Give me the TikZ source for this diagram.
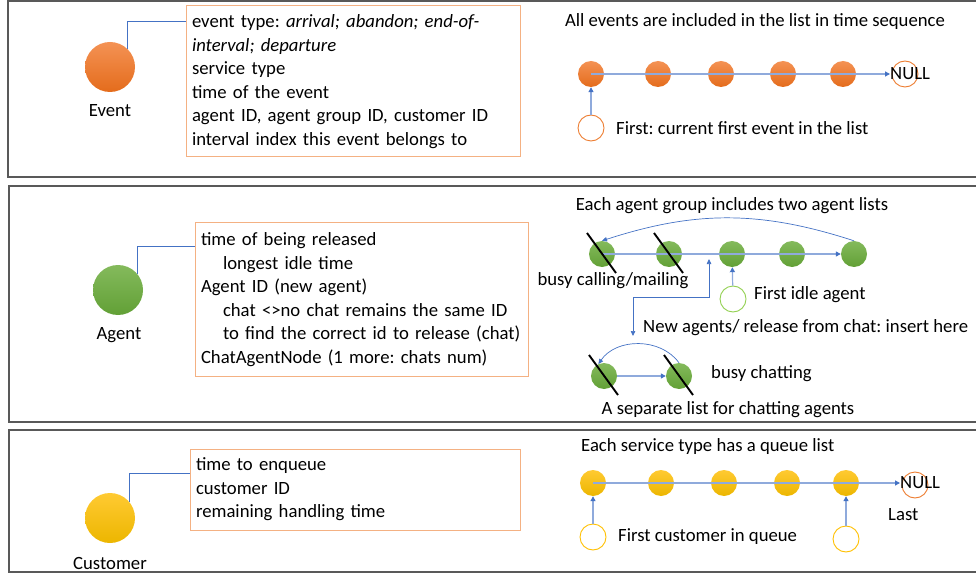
\documentclass[tikz,border=0pt]{standalone}
\usepackage{fontspec}
\setmainfont{Carlito}
\usetikzlibrary{arrows.meta, positioning}
\definecolor{framegray}{RGB}{89, 89, 89}
\definecolor{boxorange}{RGB}{244, 177, 131}
\definecolor{linkblue}{RGB}{68, 114, 196}
\definecolor{listblue}{RGB}{143, 170, 220}
\definecolor{evtop}{RGB}{244, 146, 84}
\definecolor{evbot}{RGB}{228, 108, 28}
\definecolor{evring}{RGB}{237, 125, 49}
\definecolor{agtop}{RGB}{132, 186, 92}
\definecolor{agbot}{RGB}{98, 160, 54}
\definecolor{agring}{RGB}{146, 208, 80}
\definecolor{cutop}{RGB}{255, 202, 50}
\definecolor{cubot}{RGB}{236, 182, 0}
\definecolor{curing}{RGB}{255, 192, 0}
\frenchspacing

\begin{document}
\begin{tikzpicture}[
  x=1pt, y=-1pt,
  font=\fontsize{18.7}{23.5}\selectfont,
  panel/.style={draw=framegray, line width=1.4pt},
  infobox/.style={
    rectangle, draw=boxorange, line width=1pt, align=left,
    inner xsep=6pt, inner ysep=0pt, text width=#1
  },
  ball/.style 2 args={circle, minimum size=50pt, inner sep=0pt, top color=#1, bottom color=#2},
  dot/.style 2 args={circle, minimum size=26pt, inner sep=0pt, top color=#1, bottom color=#2},
  ptr/.style={circle, minimum size=26pt, inner sep=0pt, draw=#1, line width=0.9pt, fill=white},
  txt/.style={inner sep=0pt},
  hook/.style={draw=linkblue, line width=0.8pt},
  listline/.style={draw=listblue, line width=1.2pt},
  tip/.style={-{Triangle[length=5pt, width=5pt, color=linkblue]}},
  backarc/.style={draw=linkblue, line width=0.7pt, -{Triangle[length=5pt, width=4.5pt]}},
  slash/.style={draw=black, line width=1.9pt},
]

\useasboundingbox (0,0) rectangle (976,577);

% panels
\draw[panel] (8,1) rectangle (995,177);
\draw[panel] (9,186) rectangle (995,422);
\draw[panel] (9,430) rectangle (995,572);

%% Event
\node[ball={evtop}{evbot}] (ev) at (110,67) {};
\node[txt] (evlbl) at (110,111) {Event};
\node[infobox=322pt, minimum height=151pt] (evbox) at (353,81.5) {%
  event type: \textit{arrival; abandon; end-of-}\\
  \textit{interval; departure}\\
  service type\\
  time of the event\\
  agent ID, agent group ID, customer ID\\
  interval index this event belongs to};
\draw[hook] (ev.45) |- ([yshift=-16pt]evbox.north west);

\node[txt] (evtitle) at (755,22) {All events are included in the list in time sequence};
\foreach \x [count=\i] in {591,658,721,783,843}
  \node[dot={evtop}{evbot}] (e\i) at (\x,74) {};
\node[ptr=evring] (enull) at (905,74) {};
\node[txt, anchor=west] (enulltxt) at (890,74) {NULL};
\draw[listline, tip] (e1.center) -- (enulltxt.west);
\node[ptr=evring] (efirst) at (591,128) {};
\node[txt, anchor=west] (efirsttxt) at (616,128) {First: current first event in the list};
\draw[listline, tip] (efirst) -- (e1);

%% Agent
\node[ball={agtop}{agbot}] (ag) at (118,290) {};
\node[txt] (aglbl) at (119,335) {Agent};
\node[infobox=321pt, minimum height=153pt] (agbox) at (361.5,299.5) {%
  time of being released\\
  \hspace*{22pt}longest idle time\\
  Agent ID (new agent)\\
  \hspace*{22pt}chat <>no chat remains the same ID\\
  \hspace*{22pt}to find the correct id to release (chat)\\
  ChatAgentNode (1 more: chats num)};
\draw[hook] (ag.38) |- ([yshift=-24pt]agbox.north west);

\node[txt] (agtitle) at (732,206) {Each agent group includes two agent lists};
\foreach \x [count=\i] in {602,669,732,792,854}
  \node[dot={agtop}{agbot}] (a\i) at (\x,254) {};
\draw[listline, tip] (a1.center) -- (a5.west);
\draw[backarc] (a5.north) to[bend right=18] (a1.north);
\node[txt] (busytxt) at (613,281) {busy calling/mailing};

\coordinate (insTop) at (709,259);
\coordinate (insBot) at (633,336);
\draw[hook, line width=0.7pt, {Triangle[length=5pt, width=4.5pt]}-{Triangle[length=5pt, width=4.5pt]}]
  (insTop) -- (709,297) -| (insBot);
\node[txt, anchor=west] (instxt) at (643,328) {New agents/ release from chat: insert here};

\node[ptr=agring] (afirst) at (733,299) {};
\node[txt, anchor=west] (afirsttxt) at (754,295) {First idle agent};
\draw[listline, tip] (afirst) -- (a3);

\node[dot={agtop}{agbot}] (c1) at (604,376) {};
\node[dot={agtop}{agbot}] (c2) at (679,376) {};
\draw[listline, tip] (c1) -- (c2);
\draw[backarc] (c2.north) to[bend right=55] (c1.115);
\node[txt, anchor=west] (chattxt) at (711,374) {busy chatting};
\node[txt] (chatlisttxt) at (728,410) {A separate list for chatting agents};

\foreach \n in {a1,a2,c1,c2}
  \draw[slash] ([shift={(-15,-21)}]\n.center) -- ([shift={(14,19)}]\n.center);

%% Customer
\node[ball={cutop}{cubot}] (cu) at (110,518) {};
\node[txt] (culbl) at (110,563) {Customer};
\node[infobox=318pt, minimum height=81pt] (cubox) at (355,489.5) {%
  time to enqueue\\
  customer ID\\
  remaining handling time};
\draw[hook] (cu.38) |- ([yshift=-25pt]cubox.north west);

\node[txt, anchor=west] (cutitle) at (581,447) {Each service type has a queue list};
\foreach \x [count=\i] in {593,661,724,787,846}
  \node[dot={cutop}{cubot}] (q\i) at (\x,483) {};
\node[ptr=evring] (qnull) at (915,485) {};
\node[txt, anchor=west] (qnulltxt) at (900,483) {NULL};
\draw[listline, tip] (q1.center) -- (qnulltxt.west);
\node[ptr=curing] (qfirst) at (593,537) {};
\node[txt, anchor=west] (qfirsttxt) at (618,537) {First customer in queue};
\draw[listline, tip] (qfirst) -- (q1);
\node[ptr=curing] (qlast) at (846,539) {};
\node[txt, anchor=west] (qlasttxt) at (888,515) {Last};
\draw[listline, tip] (qlast) -- (q5);

\end{tikzpicture}
\end{document}
